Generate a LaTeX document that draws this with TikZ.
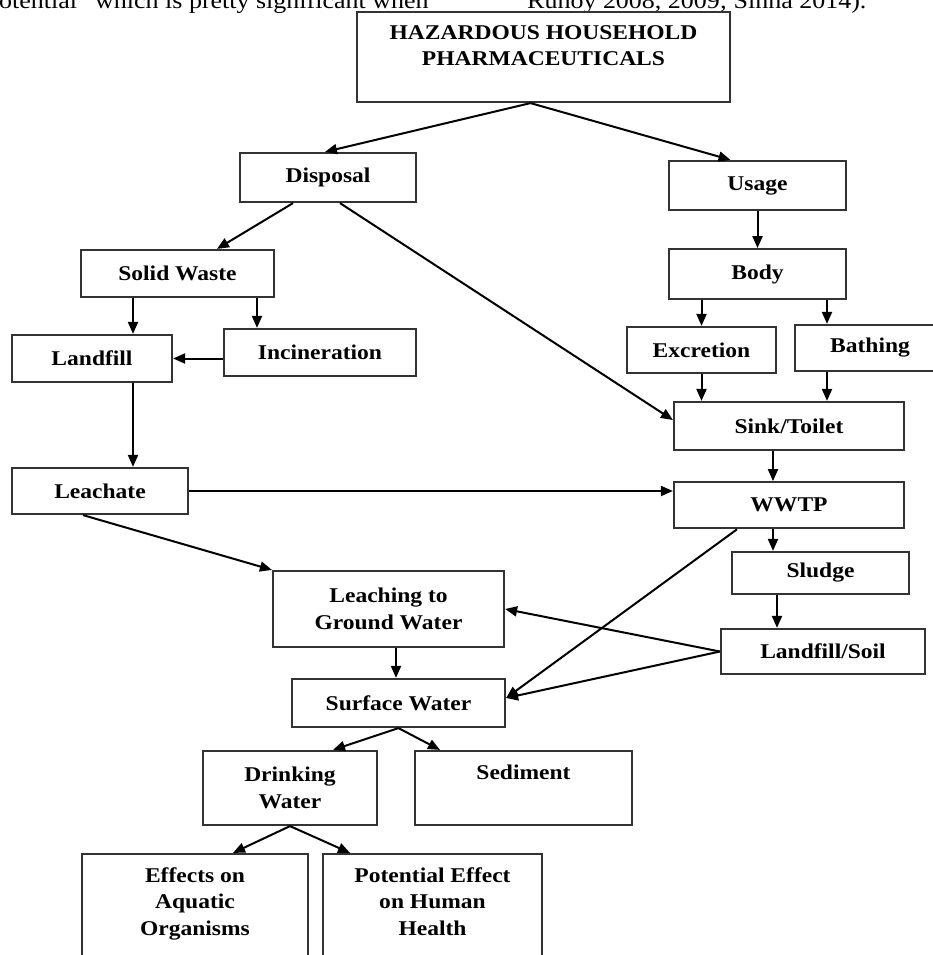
\documentclass[tikz,border=0pt]{standalone}
\usepackage{fontspec}
\setmainfont{Liberation Serif}[FakeStretch=1.12]
\usetikzlibrary{arrows.meta, positioning}

\begin{document}
\begin{tikzpicture}[x=1pt, y=-1pt,
        block/.style={draw=black!80, line width=2.2pt, rectangle, align=center, inner sep=2pt},
        flow/.style={line width=2pt, -{Triangle[length=12pt, width=10pt]}},
        font=\bfseries\fontsize{21}{26.5}\selectfont]
        \useasboundingbox (0,0) rectangle (933,955);
        \clip (0,0) rectangle (933,955);

        % Running text above the figure
        \node (txtleft) [font=\normalfont\fontsize{23.2}{28}\selectfont, anchor=base west, inner sep=0pt] at (-1,8.5) {otential” which is pretty significant when};
        \node (txtright) [font=\normalfont\fontsize{23.2}{28}\selectfont, anchor=base west, inner sep=0pt] at (527,8.5) {Ruhoy 2008, 2009; Sinha 2014).};

        % Source
        \node (haz) [block, minimum width=373pt, minimum height=90pt, label={[anchor=north, yshift=-11pt, align=center]north:{HAZARDOUS HOUSEHOLD\\PHARMACEUTICALS}}] at (543.5,57) {};

        % Disposal side
        \node (disposal) [block, minimum width=176pt, minimum height=49pt] at (328,177.5) {Disposal};
        \node (solid) [block, minimum width=193pt, minimum height=47pt] at (177.5,273.5) {Solid Waste};
        \node (landfill) [block, minimum width=160pt, minimum height=47pt] at (92,358.5) {Landfill};
        \node (incin) [block, minimum width=192pt, minimum height=47pt] at (320,352.5) {Incineration};
        \node (leachate) [block, minimum width=176pt, minimum height=46pt] at (100,491) {Leachate};

        % Usage side
        \node (usage) [block, minimum width=177pt, minimum height=49pt] at (757.5,185.5) {Usage};
        \node (body) [block, minimum width=177pt, minimum height=50pt, below=37pt of usage] {Body};
        \node (excretion) [block, minimum width=149pt, minimum height=46pt] at (701.5,350) {Excretion};
        \node (bathing) [block, minimum width=150pt, minimum height=46pt] at (870,348) {Bathing};
        \node (sink) [block, minimum width=230pt, minimum height=48pt] at (789,426) {Sink/Toilet};
        \node (wwtp) [block, minimum width=230pt, minimum height=46pt, below=30pt of sink] {WWTP};
        \node (sludge) [block, minimum width=177pt, minimum height=42pt] at (820.5,573) {Sludge};
        \node (lfsoil) [block, minimum width=204pt, minimum height=45pt] at (823,651.5) {Landfill/Soil};

        % Water
        \node (leaching) [block, minimum width=231pt, minimum height=76pt] at (388.5,609) {Leaching to\\Ground Water};
        \node (surface) [block, minimum width=213pt, minimum height=48pt] at (398.5,703) {Surface Water};
        \node (drinking) [block, minimum width=174pt, minimum height=74pt] at (290,788) {Drinking\\Water};
        \node (sediment) [block, minimum width=217pt, minimum height=74pt, label={[anchor=north, yshift=-11pt]north:Sediment}] at (523.5,788) {};

        % Effects
        \node (effects) [block, minimum width=226pt, minimum height=140pt, label={[anchor=north, yshift=-11pt, align=center]north:{Effects on\\Aquatic\\Organisms}}] at (195,924) {};
        \node (potential) [block, minimum width=219pt, minimum height=140pt, label={[anchor=north, yshift=-11pt, align=center]north:{Potential Effect\\on Human\\Health}}] at (432.5,924) {};

        % Arrows
        \draw[flow] ([xshift=-13pt]haz.south) -- ([xshift=-3pt]disposal.north);
        \draw[flow] ([xshift=-13pt]haz.south) -- ([xshift=-27pt]usage.north);

        \draw[flow] ([xshift=-35pt]disposal.south) -- ([xshift=39.5pt]solid.north);
        \draw[flow] ([xshift=12pt]disposal.south) -- ([yshift=6pt]sink.west);
        \draw[flow] ([xshift=-44.5pt]solid.south) -- ([xshift=-44.5pt]solid.south |- landfill.north);
        \draw[flow] ([xshift=79.5pt]solid.south) -- ([xshift=79.5pt]solid.south |- incin.north);
        \draw[flow] (incin.west |- landfill.east) -- (landfill.east);
        \draw[flow] ([xshift=41pt]landfill.south) -- ([xshift=41pt]landfill.south |- leachate.north);

        \draw[flow] (usage) -- (body);
        \draw[flow] (excretion.north |- body.south) -- (excretion.north);
        \draw[flow] ([xshift=-43pt]bathing.north |- body.south) -- ([xshift=-43pt]bathing.north);
        \draw[flow] (excretion.south) -- (excretion.south |- sink.north);
        \draw[flow] ([xshift=-43pt]bathing.south) -- ([xshift=-43pt]bathing.south |- sink.north);
        \draw[flow] ([xshift=-16pt]sink.south) -- ([xshift=-16pt]wwtp.north);

        \draw[flow] (leachate.east) -- (leachate.east -| wwtp.west);
        \draw[flow] ([xshift=-17pt]leachate.south) -- (leaching.north west);
        \draw[flow] ([xshift=-16pt]wwtp.south) -- ([xshift=-16pt]wwtp.south |- sludge.north);
        \draw[flow] ([xshift=-52pt]wwtp.south) -- ([yshift=5pt]surface.east);
        \draw[flow] ([xshift=-43.5pt]sludge.south) -- ([xshift=-43.5pt]sludge.south |- lfsoil.north);
        \draw[flow] (lfsoil.west) -- (leaching.east);
        \draw[flow] (lfsoil.west) -- ([yshift=5pt]surface.east);
        \draw[flow] ([xshift=7.5pt]leaching.south) -- ([xshift=7.5pt]leaching.south |- surface.north);

        \draw[flow] (surface.south) -- ([xshift=43pt]drinking.north);
        \draw[flow] (surface.south) -- ([xshift=-83.5pt]sediment.north);
        \draw[flow] (drinking.south) -- ([xshift=38pt]effects.north);
        \draw[flow] (drinking.south) -- ([xshift=-82.5pt]potential.north);
    \end{tikzpicture}
\end{document}
